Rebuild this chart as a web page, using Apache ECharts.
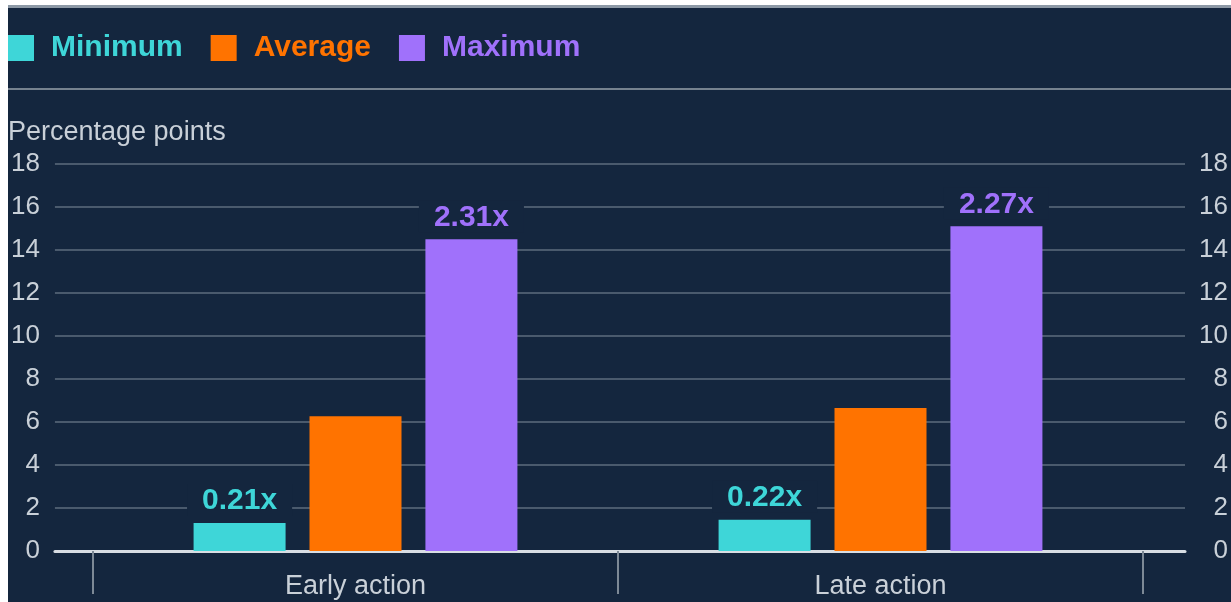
<!DOCTYPE html>
<html>
<head>
<meta charset="utf-8">
<script src="https://cdn.jsdelivr.net/npm/echarts@6/dist/echarts.min.js"></script>
<style>
  html, body { margin: 0; padding: 0; background: #ffffff; }
  #wrap {
    position: absolute; left: 8px; top: 5px;
    width: 1223px; height: 594px;
    border-top: 3px solid #8d99a6;
    background: #14263e;
  }
  #chart { width: 1223px; height: 594px; }
</style>
</head>
<body>
<div id="wrap"><div id="chart"></div></div>
<script>
var categories = ['Early action', 'Late action'];
var minValues = [1.3, 1.45];
var avgValues = [6.27, 6.65];
var maxValues = [14.5, 15.1];
var minLabels = ['0.21x', '0.22x'];
var maxLabels = ['2.31x', '2.27x'];

var bg = '#14263e';
var cyan = '#3ed6d8';
var orange = '#ff7300';
var purple = '#a071fb';
var font = 'Liberation Sans, Arial, sans-serif';

var myChart = echarts.init(document.getElementById('chart'));

function barLabel(color, texts) {
    return {
        show: true,
        position: 'top',
        distance: 7,
        color: color,
        fontSize: 30,
        fontWeight: 'bold',
        fontFamily: font,
        backgroundColor: bg,
        padding: [2, 15, 0, 15],
        formatter: function (p) {
            return texts[p.dataIndex];
        }
    };
}

option = {
    backgroundColor: bg,
    animation: false,
    title: {
        text: 'Percentage points',
        left: 0,
        top: 111,
        padding: 0,
        textStyle: { color: '#c9d0d8', fontSize: 27, fontWeight: 'normal', fontFamily: font }
    },
    legend: {
        left: 0,
        top: 25,
        padding: 0,
        icon: 'rect',
        itemWidth: 26,
        itemHeight: 26,
        itemGap: 28,
        textStyle: { fontSize: 30, fontWeight: 'bold', fontFamily: font, padding: [0, 0, 0, 12] },
        data: [
            { name: 'Minimum', textStyle: { color: cyan } },
            { name: 'Average', textStyle: { color: orange } },
            { name: 'Maximum', textStyle: { color: purple } }
        ]
    },
    graphic: [{
        type: 'rect',
        shape: { x: 0, y: 80, width: 1223, height: 2 },
        style: { fill: '#76828f' },
        silent: true
    }],
    grid: [
        // gridlines and value axes
        { left: 44, right: 46, top: 156, bottom: 51 },
        // bars and category ticks
        { left: 85, right: 88, top: 156, bottom: 51 }
    ],
    xAxis: [{
        gridIndex: 0,
        type: 'category',
        data: [''],
        axisLine: { show: true, lineStyle: { color: '#d8dde3', width: 3 } },
        axisTick: { show: false },
        axisLabel: { show: false }
    }, {
        gridIndex: 1,
        type: 'category',
        data: categories,
        axisLine: { show: false },
        axisTick: { show: true, length: 43, lineStyle: { color: '#7d8996', width: 2 } },
        axisLabel: { color: '#c9d0d8', fontSize: 27, fontFamily: font, margin: 22 }
    }],
    yAxis: [{
        gridIndex: 0,
        type: 'value',
        min: 0,
        max: 18,
        interval: 2,
        axisLine: { show: false },
        axisTick: { show: false },
        splitLine: { lineStyle: { color: '#4a5a6d', width: 2 } },
        axisLabel: { color: '#c9d0d8', fontSize: 26, fontFamily: font, margin: 15 }
    }, {
        gridIndex: 0,
        type: 'value',
        position: 'right',
        min: 0,
        max: 18,
        interval: 2,
        axisLine: { show: false },
        axisTick: { show: false },
        splitLine: { show: false },
        axisLabel: { color: '#c9d0d8', fontSize: 26, fontFamily: font, margin: 43, align: 'right' }
    }, {
        gridIndex: 1,
        type: 'value',
        min: 0,
        max: 18,
        show: false
    }],
    series: [{
        name: 'Minimum',
        type: 'bar',
        xAxisIndex: 1,
        yAxisIndex: 2,
        barWidth: 92,
        barGap: '26%',
        itemStyle: { color: cyan },
        label: barLabel(cyan, minLabels),
        data: minValues
    }, {
        name: 'Average',
        type: 'bar',
        xAxisIndex: 1,
        yAxisIndex: 2,
        barWidth: 92,
        barGap: '26%',
        itemStyle: { color: orange },
        data: avgValues
    }, {
        name: 'Maximum',
        type: 'bar',
        xAxisIndex: 1,
        yAxisIndex: 2,
        barWidth: 92,
        barGap: '26%',
        itemStyle: { color: purple },
        label: barLabel(purple, maxLabels),
        data: maxValues
    }]
};
myChart.setOption(option);
</script>
</body>
</html>
